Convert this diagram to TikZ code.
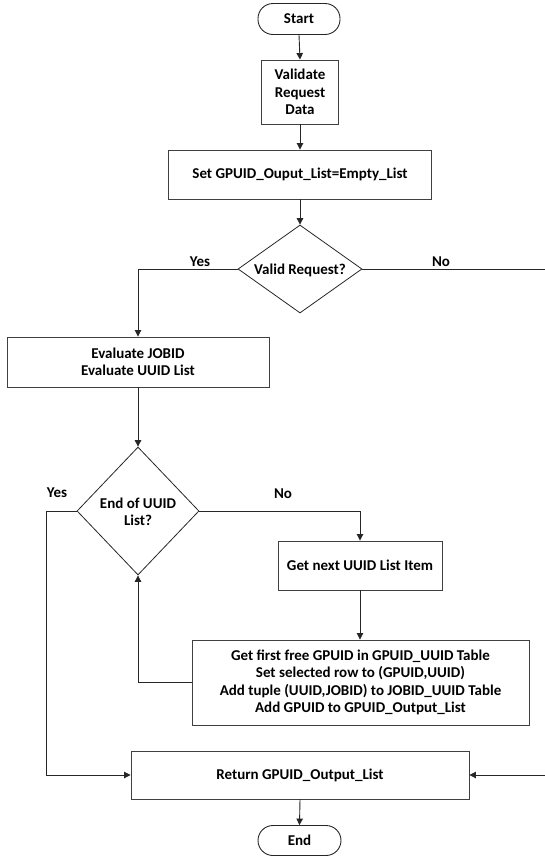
\documentclass[tikz,border=0pt]{standalone}
\usepackage{fontspec}
\setmainfont{Carlito}
\usetikzlibrary{shapes.geometric,arrows.meta}
\begin{document}
\begin{tikzpicture}[x=1pt,y=-1pt,
  every node/.style={font=\fontsize{15}{17.5}\selectfont\bfseries},
  box/.style={draw=black!75,line width=0.9pt,rectangle,inner sep=0pt,align=center},
  term/.style={draw=black!85,line width=0.9pt,rectangle,rounded corners=15pt,inner sep=0pt,minimum width=82pt,minimum height=31pt},
  dia/.style={draw=black!85,line width=0.8pt,diamond,inner sep=0pt},
  lbl/.style={inner sep=0pt,align=center},
  conn/.style={draw=black!85,line width=0.9pt},
  arr/.style={conn,-{Triangle[length=6.5pt,width=6.5pt]}}]
\useasboundingbox (0,0) rectangle (544,857);
% nodes
\node[term] (start) at (299,19) {Start};
\node[box,minimum width=77pt,minimum height=64pt] (val) at (300,92) {Validate\\Request\\Data};
\node[box,minimum width=263pt,minimum height=49pt] (set) at (300,174.5) {Set GPUID\_Ouput\_List=Empty\_List};
\node[dia,minimum width=124pt,minimum height=88pt] (vr) at (300,269) {};
\node[lbl] (vrt) at (300,270) {Valid Request?};
\node[box,minimum width=262pt,minimum height=50pt] (eval) at (138,362) {Evaluate JOBID\\Evaluate UUID List};
\node[dia,minimum width=122pt,minimum height=128pt] (eol) at (138,511) {};
\node[lbl] (eolt) at (138,512) {End of UUID\\List?};
\node[box,minimum width=164pt,minimum height=49pt] (next) at (360,565.5) {Get next UUID List Item};
\node[box,minimum width=337pt,minimum height=85pt] (big) at (360.5,682.5) {Get first free GPUID in GPUID\_UUID Table\\Set selected row to (GPUID,UUID)\\Add tuple (UUID,JOBID) to JOBID\_UUID Table\\Add GPUID to GPUID\_Output\_List};
\node[box,minimum width=338pt,minimum height=48pt] (ret) at (300,775) {Return GPUID\_Output\_List};
\node[term,minimum width=83pt,minimum height=30pt] (end) at (299.5,840.5) {End};
% labels
\node[lbl] (yes1) at (200,262) {Yes};
\node[lbl] (no1) at (441,262) {No};
\node[lbl] (yes2) at (57,493) {Yes};
\node[lbl] (no2) at (283,494) {No};
% helper coordinates
\coordinate (yl) at (46,511);
\coordinate (nra) at (545,269);
\coordinate (nrb) at (545,775);
% connectors
\draw[arr] (start.south) -- (val.north);
\draw[arr] (val.south) -- (set.north);
\draw[arr] (set.south) -- (vr.north);
\draw[arr] (vr.west) -| (eval.north);
\draw[arr] (eval.south) -- (eol.north);
\draw[arr] (eol.east) -| (next.north);
\draw[arr] (next.south) -- (next.south |- big.north);
\draw[arr] (big.west) -| (eol.south);
\draw[arr] (eol.west) -- (yl) |- (ret.west);
\draw[conn] (vr.east) -- (nra);
\draw[arr] (nrb) -- (ret.east);
\draw[arr] (ret.south) -- (end.north);
\end{tikzpicture}
\end{document}
